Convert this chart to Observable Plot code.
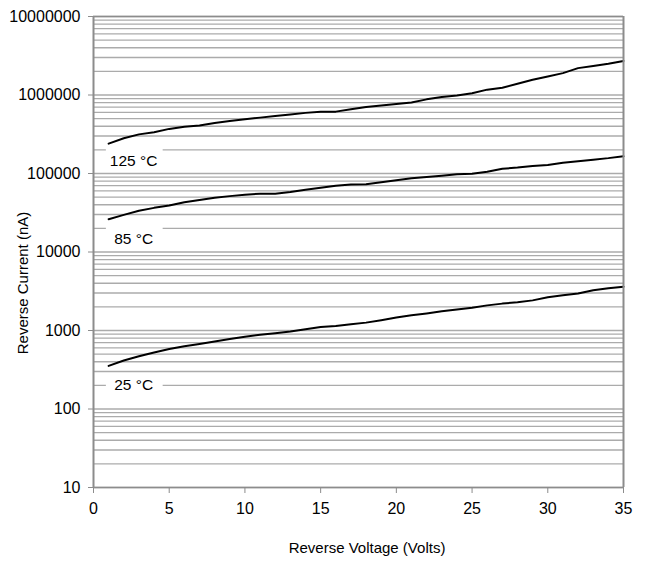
<!DOCTYPE html>
<html>
<head>
<meta charset="utf-8">
<script src="https://cdn.jsdelivr.net/npm/d3@7"></script>
<script src="https://cdn.jsdelivr.net/npm/@observablehq/plot@0.6"></script>
<style>
  html, body { margin: 0; padding: 0; background: #fff; }
  #chart svg { display: block; }
</style>
</head>
<body>
<div id="chart"></div>
<script>
// Reverse voltage (V)
const voltage = [1,2,3,4,5,6,7,8,9,10,11,12,13,14,15,16,17,18,19,20,21,22,23,24,25,26,27,28,29,30,31,32,33,34,35];
// Reverse current (nA)
const current125 = [240000,281000,315000,335000,370000,395000,410000,440000,467000,490000,515000,540000,565000,592000,612000,614000,660000,705000,735000,770000,805000,880000,940000,985000,1050000,1170000,1240000,1390000,1560000,1720000,1900000,2200000,2340000,2500000,2710000];
const current85 = [26200,29700,33500,36500,39000,43000,46000,49000,51500,53500,55400,55400,58000,62000,66000,70000,72500,73000,77500,82000,87000,90000,93500,98000,99500,105000,115000,119000,125000,128500,137000,143000,150000,157000,166000];
const current25 = [354,415,470,525,580,630,675,725,780,835,880,920,970,1040,1110,1145,1200,1260,1350,1460,1560,1650,1760,1850,1950,2090,2200,2290,2420,2650,2810,2960,3250,3460,3620];

const seriesNames = ["125 °C", "85 °C", "25 °C"];
const seriesValues = [current125, current85, current25];

// label annotations (position in data units)
const labelText = ["125 °C", "85 °C", "25 °C"];
const labelX = [2.65, 2.65, 2.65];
const labelY = [143000, 14500, 200];
const boxX1 = [0.85, 0.85, 0.85];
const boxX2 = [4.6, 4.6, 4.6];
const boxY1 = [110000, 11000, 140];
const boxY2 = [235000, 23000, 260];

const xTicks = [0,5,10,15,20,25,30,35];
const yTicks = [10,100,1000,10000,100000,1000000,10000000];
const xLabel = "Reverse Voltage (Volts)";
const yLabel = "Reverse Current (nA)";

const rows = [];
seriesNames.forEach((name, s) => {
  voltage.forEach((v, i) => rows.push({series: name, v, c: seriesValues[s][i]}));
});
const grid = [];
for (let k = 1; k <= 6; k++) for (let m = 1; m <= 9; m++) grid.push(m * Math.pow(10, k));
grid.push(1e7);
const labels = labelText.map((t, i) => ({t, x: labelX[i], y: labelY[i], x1: boxX1[i], x2: boxX2[i], y1: boxY1[i], y2: boxY2[i]}));

const FONT = '"Liberation Sans", Arial, Helvetica, sans-serif';

const chart = Plot.plot({
  width: 651,
  height: 562,
  marginTop: 16,
  marginBottom: 75,
  marginLeft: 93,
  marginRight: 28,
  style: {fontFamily: FONT, fontSize: "16px", color: "black", background: "white"},
  x: {domain: [0, 35]},
  y: {type: "log", domain: [10, 1e7]},
  marks: [
    Plot.ruleY(grid, {stroke: "#ababab", strokeWidth: 1.4}),
    Plot.rect(labels, {x1: "x1", x2: "x2", y1: "y1", y2: "y2", fill: "white"}),
    Plot.text(labels, {x: "x", y: "y", text: "t", fill: "black", fontSize: 15.5}),
    Plot.line(rows, {x: "v", y: "c", z: "series", stroke: "black", strokeWidth: 2}),
    Plot.ruleY([10, 1e7], {stroke: "#8c8c8c", strokeWidth: 1.6}),
    Plot.ruleX([0, 35], {stroke: "#8c8c8c", strokeWidth: 2}),
    Plot.axisY({ticks: yTicks, tickFormat: d => String(d), tickSize: 5, tickPadding: 8, stroke: "#8c8c8c", fill: "black", label: null}),
    Plot.axisX({ticks: xTicks, tickFormat: d => String(d), tickSize: 6, tickPadding: 9, stroke: "#8c8c8c", fill: "black", label: null})
  ]
});

const svg = d3.select(chart);
svg.append("text")
  .attr("x", 367).attr("y", 549)
  .attr("text-anchor", "middle").attr("dominant-baseline", "middle")
  .attr("font-size", 15).attr("fill", "black")
  .text(xLabel);
svg.append("text")
  .attr("transform", "translate(24,283) rotate(-90)")
  .attr("text-anchor", "middle").attr("dominant-baseline", "middle")
  .attr("font-size", 15).attr("fill", "black")
  .text(yLabel);

document.getElementById("chart").appendChild(chart);
</script>
</body>
</html>
